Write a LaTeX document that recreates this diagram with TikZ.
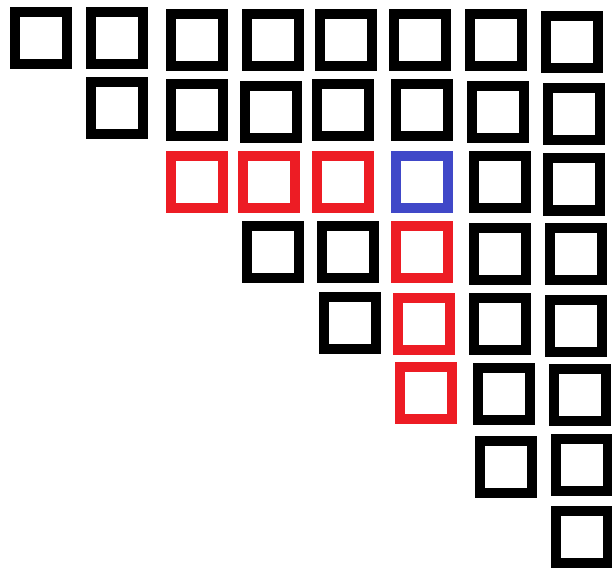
\documentclass[tikz,border=0pt]{standalone}
\definecolor{sqred}{HTML}{ED1C24}
\definecolor{sqblue}{HTML}{4048C8}
\begin{document}
\begin{tikzpicture}[x=1pt,y=-1pt,
  sq/.style={draw=black,line width=10pt,minimum width=52pt,minimum height=52pt,inner sep=0pt,outer sep=0pt,shape=rectangle},
  rsq/.style={sq,draw=sqred},
  bsq/.style={sq,draw=sqblue}]
\useasboundingbox (0,0) rectangle (612,569);
% row 0
\node[sq] (r0c0) at (41,38) {};
\node[sq] (r0c1) at (117,38) {};
\node[sq] (r0c2) at (197,40) {};
\node[sq] (r0c3) at (273,40) {};
\node[sq] (r0c4) at (346,40) {};
\node[sq] (r0c5) at (419.5,40) {};
\node[sq] (r0c6) at (495.5,40) {};
\node[sq] (r0c7) at (572,42) {};
% row 1
\node[sq] (r1c1) at (117,108) {};
\node[sq] (r1c2) at (197,110) {};
\node[sq] (r1c3) at (271,112) {};
\node[sq] (r1c4) at (343,110) {};
\node[sq] (r1c5) at (421.5,110) {};
\node[sq] (r1c6) at (498,112) {};
\node[sq] (r1c7) at (574,114) {};
% row 2
\node[rsq] (r2c2) at (197,182) {};
\node[rsq] (r2c3) at (269,182) {};
\node[rsq] (r2c4) at (343,182) {};
\node[bsq] (r2c5) at (421.5,182) {};
\node[sq] (r2c6) at (500,182.5) {};
\node[sq] (r2c7) at (574,184.5) {};
% row 3
\node[sq] (r3c3) at (273,252) {};
\node[sq] (r3c4) at (347.5,252) {};
\node[rsq] (r3c5) at (421.5,252) {};
\node[sq] (r3c6) at (500,254) {};
\node[sq] (r3c7) at (576,254) {};
% row 4
\node[sq] (r4c4) at (349.5,322.5) {};
\node[rsq] (r4c5) at (423.5,324) {};
\node[sq] (r4c6) at (500,324) {};
\node[sq] (r4c7) at (576,326) {};
% row 5
\node[rsq] (r5c5) at (425.5,392.5) {};
\node[sq] (r5c6) at (504,394) {};
\node[sq] (r5c7) at (579.5,395) {};
% row 6
\node[sq] (r6c6) at (506,467) {};
\node[sq] (r6c7) at (582,465) {};
% row 7
\node[sq] (r7c7) at (582,536.5) {};
\end{tikzpicture}
\end{document}
